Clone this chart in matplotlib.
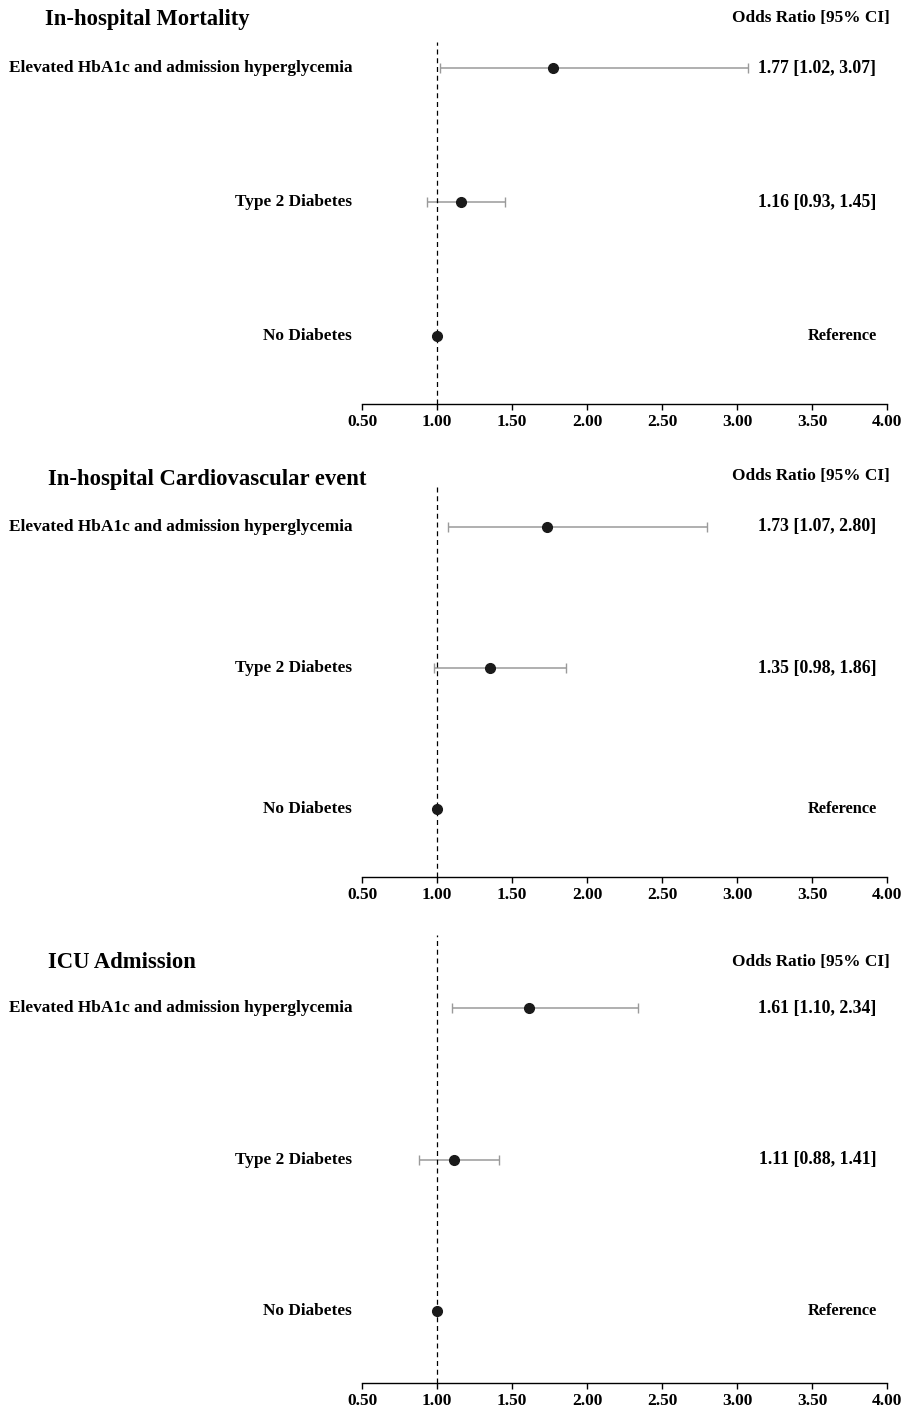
import matplotlib.pyplot as plt

plt.rcParams['font.family'] = ['Liberation Serif', 'DejaVu Serif']
plt.rcParams['font.weight'] = 'bold'

titles = ["In-hospital Mortality", "In-hospital Cardiovascular event", "ICU Admission"]
groups = ["Elevated HbA1c and admission hyperglycemia", "Type 2 Diabetes", "No Diabetes"]
odds = [[1.77, 1.16, 1.00], [1.73, 1.35, 1.00], [1.61, 1.11, 1.00]]
lower = [[1.02, 0.93, None], [1.07, 0.98, None], [1.10, 0.88, None]]
upper = [[3.07, 1.45, None], [2.80, 1.86, None], [2.34, 1.41, None]]
ticks = [0.5, 1.0, 1.5, 2.0, 2.5, 3.0, 3.5, 4.0]

W, H = 906, 1412
# pixel layout per panel: rows (top->bottom), axis line y, dashed top, title pos, header y
rows_px = [(68, 202, 336), (527, 668, 809), (1008, 1160, 1311)]
axis_px = [404, 877, 1383]
top_px = [42, 484, 935]
title_px = [(45, 20), (48, 480), (48, 963)]
header_px = [18, 476, 962]
x0_px, x1_px = 362, 887

fig = plt.figure(figsize=(W / 100, H / 100), dpi=100)

for i in range(3):
    r = rows_px[i]
    ax = fig.add_axes([x0_px / W, 1 - axis_px[i] / H, (x1_px - x0_px) / W,
                       (axis_px[i] - top_px[i]) / H])
    sp = (r[2] - r[0]) / 2
    ax.set_ylim(1 - (axis_px[i] - r[2]) / sp, 3 + (r[0] - top_px[i]) / sp)
    ax.set_xlim(0.5, 4.0)
    ys = [3, 2, 1]
    for j in range(3):
        if lower[i][j] is not None:
            ax.errorbar(odds[i][j], ys[j],
                        xerr=[[odds[i][j] - lower[i][j]], [upper[i][j] - odds[i][j]]],
                        fmt='none', ecolor='#9a9a9a', elinewidth=1.1, capsize=3.5, capthick=1.0)
        ax.plot(odds[i][j], ys[j], 'o', color='#1a1a1a', ms=7, zorder=3)
        ax.text(-0.019, ys[j], groups[j], transform=ax.get_yaxis_transform(),
                ha='right', va='center', fontsize=12.4, fontweight='bold')
        if lower[i][j] is None:
            lab, fs = "Reference", 11.8
        else:
            lab, fs = f"{odds[i][j]:.2f} [{lower[i][j]:.2f}, {upper[i][j]:.2f}]", 12.8
        ax.text(0.98, ys[j], lab, transform=ax.get_yaxis_transform(),
                ha='right', va='center', fontsize=fs, fontweight='bold')
    ax.axvline(1.0, color='black', ls=(0, (4, 3)), lw=0.9)
    for s in ['top', 'right', 'left']:
        ax.spines[s].set_visible(False)
    ax.spines['bottom'].set_linewidth(1.0)
    ax.set_yticks([])
    ax.set_xticks(ticks)
    ax.set_xticklabels([f"{t:.2f}" for t in ticks], fontsize=12.5, fontweight='bold')
    ax.tick_params(axis='x', length=4, width=1.0, pad=3)

    fig.text(title_px[i][0] / W, 1 - title_px[i][1] / H, titles[i],
             ha='left', va='center', fontsize=16.3, fontweight='bold')
    fig.text(890 / W, 1 - header_px[i] / H, "Odds Ratio [95% CI]",
             ha='right', va='center', fontsize=12.4, fontweight='bold')

fig.savefig("out.png", dpi=100)
